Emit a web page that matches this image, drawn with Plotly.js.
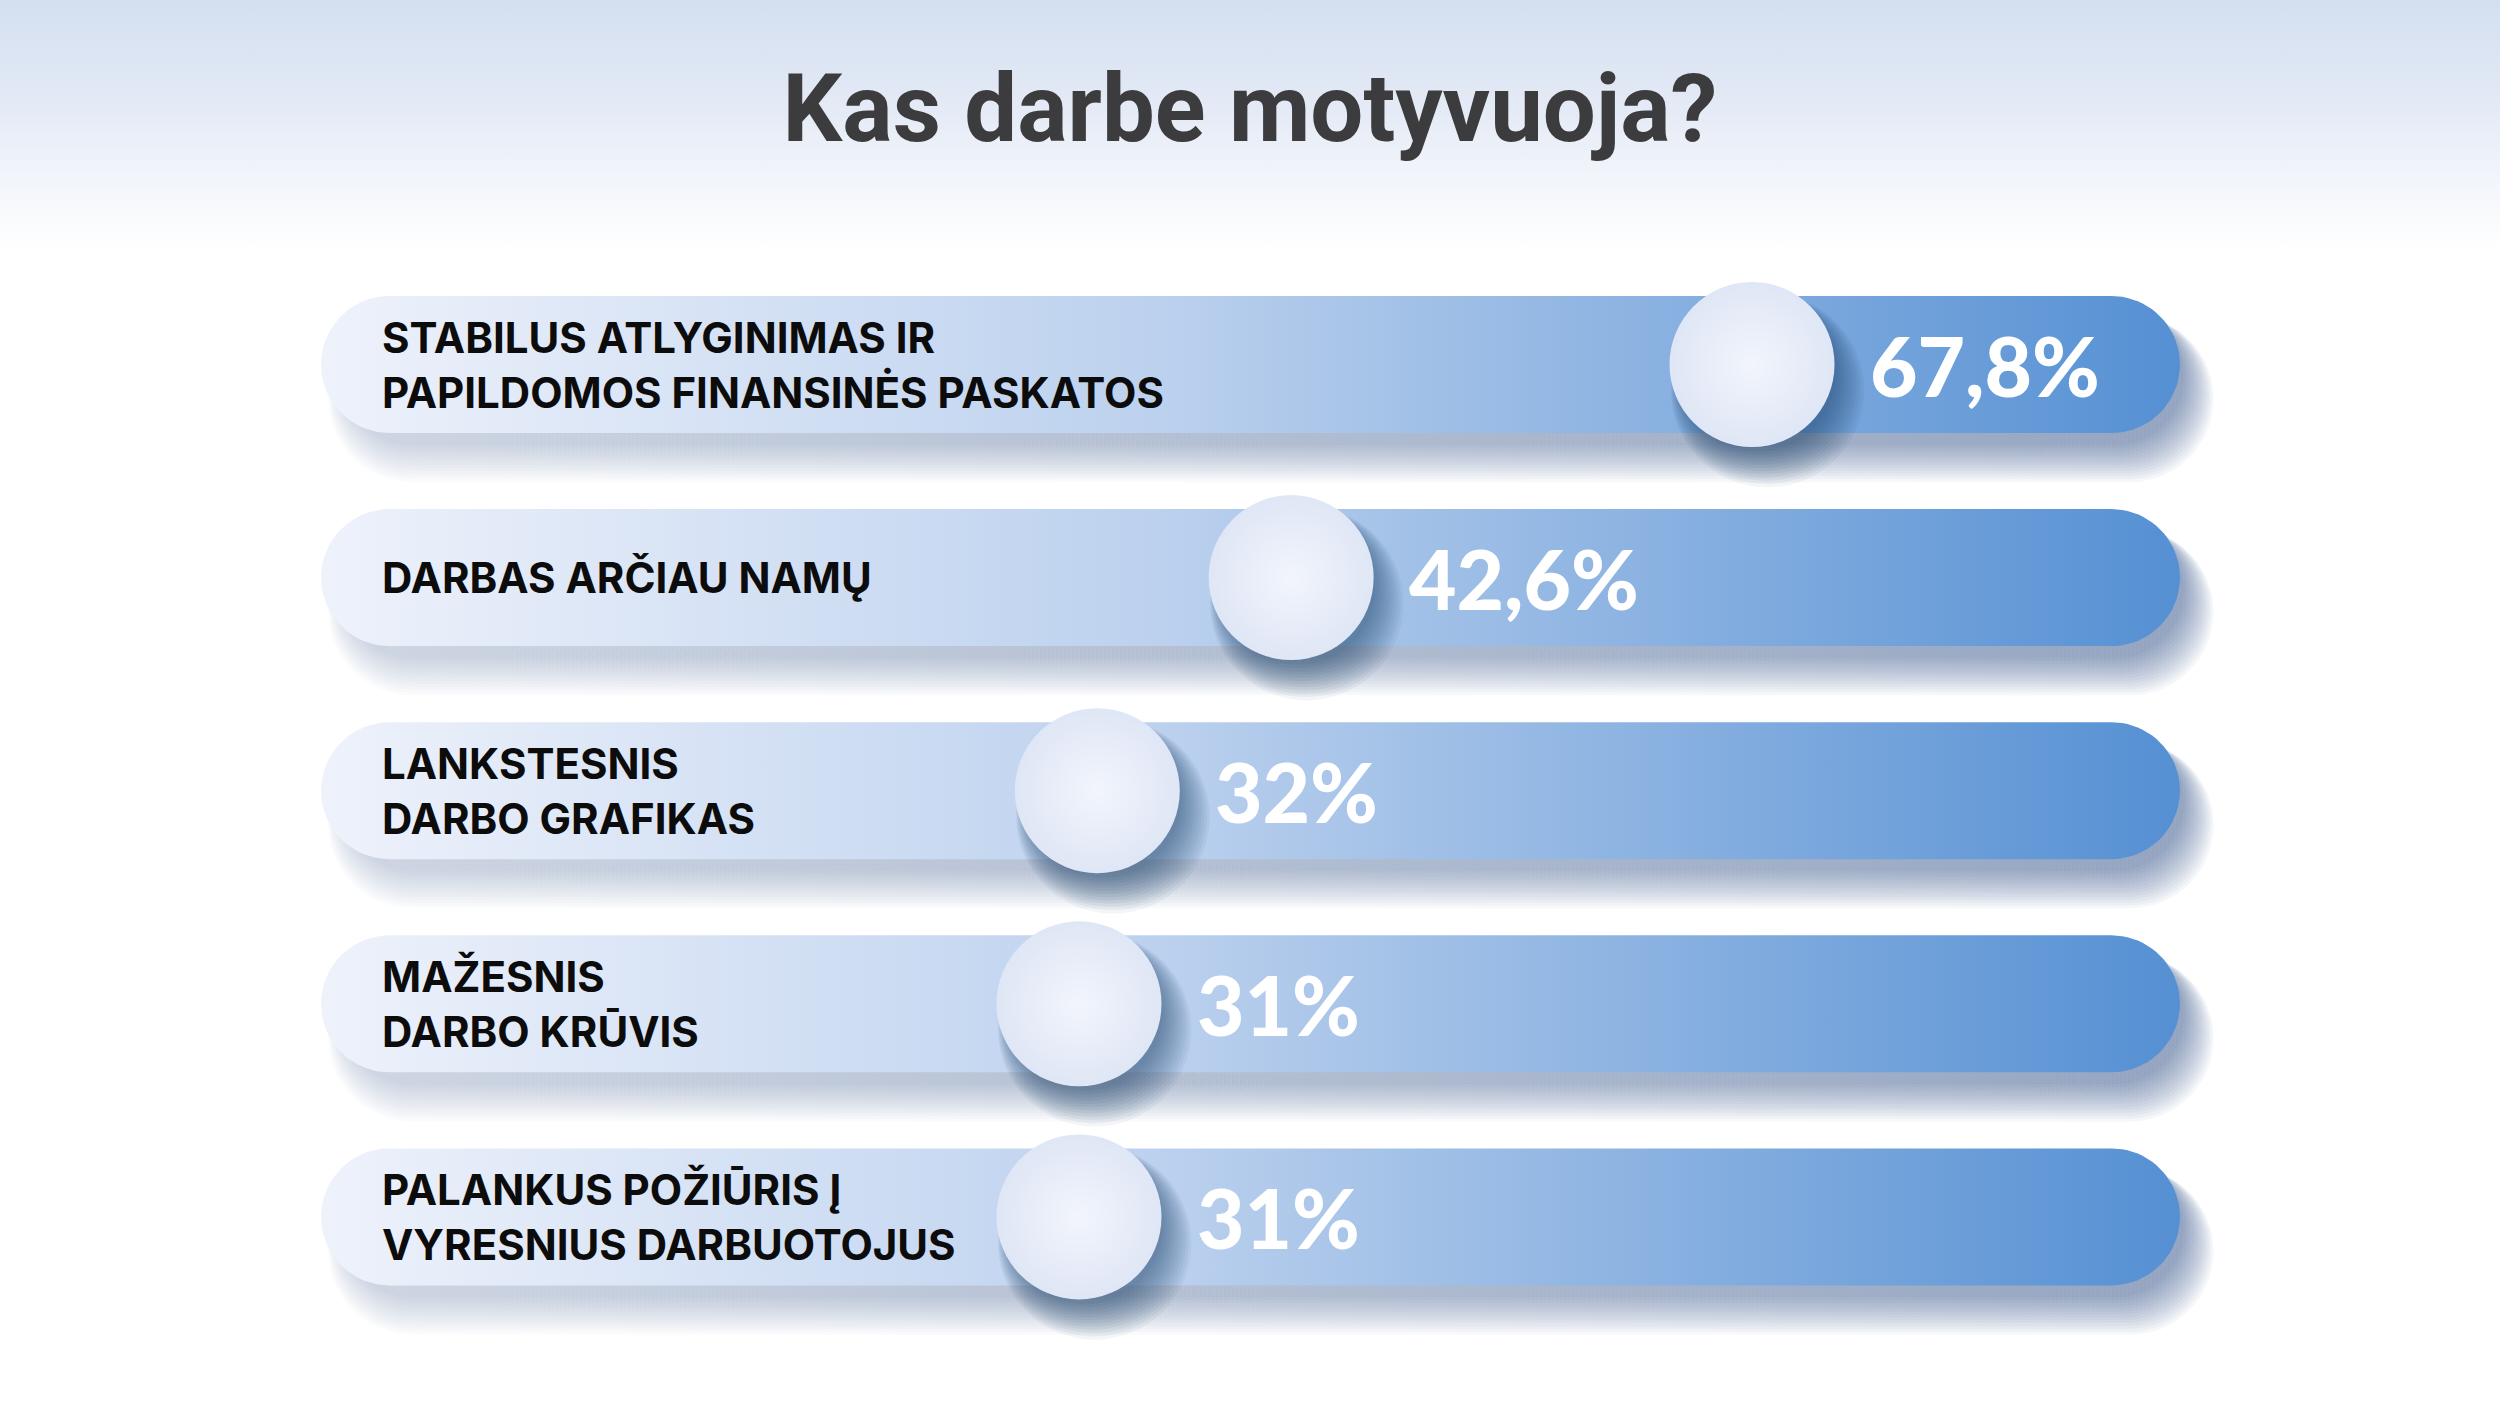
<!DOCTYPE html>
<html>
<head>
<meta charset="utf-8">
<script src="https://cdn.plot.ly/plotly-3.0.1.min.js"></script>
<style>html,body{margin:0;padding:0;background:#fff;}#chart{width:2500px;height:1406px;}</style>
</head>
<body>
<div id="chart"></div>
<script>
// ---- data ----
const title = 'Kas darbe motyvuoja?';
const categories = [
  ['STABILUS ATLYGINIMAS IR', 'PAPILDOMOS FINANSINĖS PASKATOS'],
  ['DARBAS ARČIAU NAMŲ'],
  ['LANKSTESNIS', 'DARBO GRAFIKAS'],
  ['MAŽESNIS', 'DARBO KRŪVIS'],
  ['PALANKUS POŽIŪRIS Į', 'VYRESNIUS DARBUOTOJUS']
];
const values = [67.8, 42.6, 32, 31, 31];
const valueLabels = ['67,8%', '42,6%', '32%', '31%', '31%'];

// ---- layout geometry ----
const W = 2500, H = 1406;
const X_RANGE = [-28.0, 108.7];
const Y_RANGE = [4.8874, -1.7105];
const pxPerX = W / (X_RANGE[1] - X_RANGE[0]);
const pxPerY = H / (Y_RANGE[0] - Y_RANGE[1]);
const toX = px => X_RANGE[0] + px / pxPerX;        // pixel -> data x
const toYoff = dpx => dpx / pxPerY;                 // pixel offset -> data y offset
const yIdx = categories.map((_, i) => i);
const TRACK_L = 321, TRACK_R = 2180, HALF_H = 68.5;
const KNOB = 165;

function pill(x0px, x1px, cy, rpx) {
  const xs = [], ys = [];
  const n = 40;
  const cxR = x1px - rpx, cxL = x0px + rpx;
  for (let k = 0; k <= n; k++) {
    const a = -Math.PI / 2 + Math.PI * k / n;
    xs.push(toX(cxR + rpx * Math.cos(a)));
    ys.push(cy + toYoff(rpx * Math.sin(a)));
  }
  for (let k = 0; k <= n; k++) {
    const a = Math.PI / 2 + Math.PI * k / n;
    xs.push(toX(cxL + rpx * Math.cos(a)));
    ys.push(cy + toYoff(rpx * Math.sin(a)));
  }
  xs.push(xs[0]); ys.push(ys[0]);
  return {xs, ys};
}

const traces = [];

// top background gradient
traces.push({
  type: 'scatter', mode: 'lines', hoverinfo: 'skip', showlegend: false,
  x: [X_RANGE[0], X_RANGE[1], X_RANGE[1], X_RANGE[0], X_RANGE[0]],
  y: [Y_RANGE[1], Y_RANGE[1], Y_RANGE[1] + toYoff(250), Y_RANGE[1] + toYoff(250), Y_RANGE[1]],
  fill: 'toself', line: {width: 0, color: 'rgba(0,0,0,0)'},
  fillgradient: {type: 'vertical', start: Y_RANGE[1], stop: Y_RANGE[1] + toYoff(250),
    colorscale: [[0, '#d3dff0'], [0.45, '#e5ebf6'], [0.8, '#f6f8fc'], [1, '#ffffff']]}
});

// bar shadows (soft, mostly below and to the right)
const SH_N = 14;
yIdx.forEach(i => {
  for (let k = 0; k < SH_N; k++) {
    const t = k * 8 / SH_N;
    const p = pill(TRACK_L + 22 - t * 2, TRACK_R + 4 + t * 4, i + toYoff(12 + t * 3), HALF_H + t * 2);
    traces.push({
      type: 'scatter', mode: 'lines', hoverinfo: 'skip', showlegend: false,
      x: p.xs, y: p.ys, fill: 'toself', line: {width: 0, color: 'rgba(0,0,0,0)'},
      fillgradient: {type: 'horizontal', start: toX(TRACK_L), stop: toX(TRACK_R),
        colorscale: [[0, 'rgba(60,90,140,0.02)'], [1, 'rgba(25,60,120,0.043)']]}
    });
  }
});

// bars (tracks)
yIdx.forEach(i => {
  const p = pill(TRACK_L, TRACK_R, i, HALF_H);
  traces.push({
    type: 'scatter', mode: 'lines', hoverinfo: 'skip', showlegend: false,
    x: p.xs, y: p.ys, fill: 'toself', line: {width: 0, color: 'rgba(0,0,0,0)'},
    fillgradient: {type: 'horizontal', start: toX(TRACK_L), stop: toX(TRACK_R),
      colorscale: [[0, '#eef2fb'], [0.45, '#bcd1ee'], [1, '#5590d3']]}
  });
});

// knob shadows (soft, down-right)
const KS_N = 12;
for (let k = 0; k < KS_N; k++) {
  const t = k * 7 / KS_N;
  traces.push({
    type: 'scatter', mode: 'markers', hoverinfo: 'skip', showlegend: false,
    x: values.map(v => v + (6 + t * 1.5) / pxPerX), y: yIdx.map(i => i + toYoff(10 + t * 2.5)),
    marker: {size: KNOB - 10 + t * 6, color: 'rgba(20,50,105,0.05)', line: {width: 0}}
  });
}

// knobs
traces.push({
  type: 'scatter', mode: 'markers', hoverinfo: 'skip', showlegend: false,
  x: values, y: yIdx,
  marker: {size: KNOB, color: '#dfe6f5', gradient: {type: 'radial', color: '#f2f5fc'}, line: {width: 0}}
});

const annotations = [];
yIdx.forEach(i => {
  annotations.push({
    x: toX(380), y: i, xref: 'x', yref: 'y', xanchor: 'left', yanchor: 'middle', align: 'left',
    text: categories[i].join('<br>'), showarrow: false,
    font: {family: 'Inter', size: 42, weight: 700, color: '#0c0c0c'}
  });
  annotations.push({
    x: values[i], y: i, xref: 'x', yref: 'y', xanchor: 'left', yanchor: 'middle', xshift: 116,
    text: valueLabels[i], showarrow: false,
    font: {family: 'Lato', size: 82, weight: 900, color: '#ffffff'}
  });
});

const layout = {
  width: W, height: H,
  margin: {l: 0, r: 0, t: 0, b: 0},
  paper_bgcolor: '#ffffff', plot_bgcolor: 'rgba(0,0,0,0)',
  showlegend: false, hovermode: false,
  title: {text: title, x: 0.5, xanchor: 'center', y: 1 - 108 / H, yanchor: 'middle', yref: 'container',
    font: {family: 'Roboto', size: 94, weight: 700, color: '#3c3c3e'}},
  xaxis: {range: X_RANGE, visible: false, fixedrange: true},
  yaxis: {range: Y_RANGE, visible: false, fixedrange: true},
  annotations: annotations
};

Plotly.newPlot('chart', traces, layout, {staticPlot: true, displayModeBar: false});
</script>
</body>
</html>
